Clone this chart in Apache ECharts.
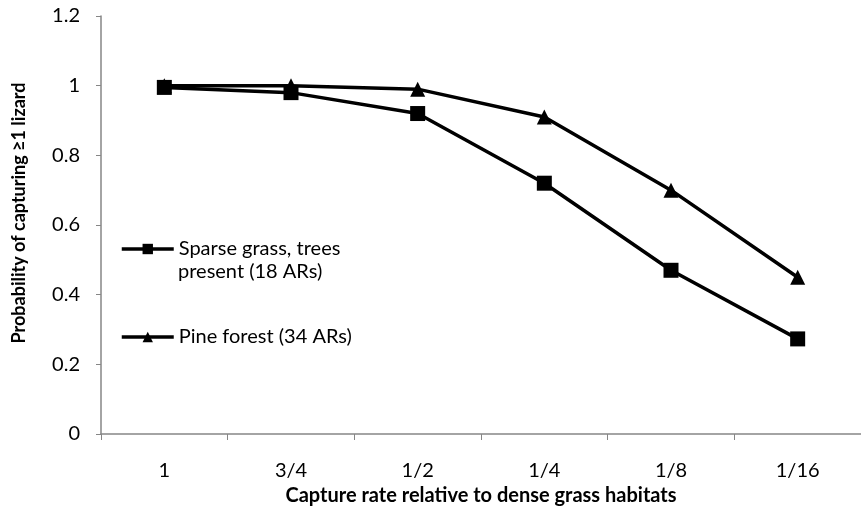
<!DOCTYPE html>
<html><head><meta charset="utf-8">
<script src="https://cdn.jsdelivr.net/npm/echarts@6/dist/echarts.min.js"></script>
<style>html,body{margin:0;padding:0;background:#fff}#c{width:861px;height:529px}</style>
</head><body><div id="c"></div>
<script>
const categories = ['1', '3/4', '1/2', '1/4', '1/8', '1/16'];
const sparseGrass = [0.995, 0.98, 0.92, 0.72, 0.47, 0.273];
const pineForest = [1.0, 1.0, 0.99, 0.91, 0.70, 0.45];
const yTicks = [0, 0.2, 0.4, 0.6, 0.8, 1, 1.2];
const sparseName = 'Sparse grass, trees present (18 ARs)';
const sparseLine1 = 'Sparse grass, trees';
const sparseLine2 = 'present (18 ARs)';
const pineName = 'Pine forest (34 ARs)';

const font = 'Lato, "Liberation Sans", sans-serif';
const chart = echarts.init(document.getElementById('c'));
chart.setOption({
  animation: false,
  backgroundColor: '#fff',
  textStyle: { fontFamily: font },
  grid: { left: 101, top: 16, width: 768, height: 418 },
  legend: [
    { data: [sparseName], left: 115, top: 234, itemWidth: 52, itemHeight: 13, itemGap: 7,
      formatter: () => sparseLine1,
      lineStyle: { width: 3.5 },
      textStyle: { fontSize: 20, color: '#000', fontFamily: font } },
    { data: [pineName], left: 115, top: 322, itemWidth: 52, itemHeight: 13, itemGap: 7,
      lineStyle: { width: 3.5 },
      textStyle: { fontSize: 20, color: '#000', fontFamily: font } }
  ],
  graphic: [
    { type: 'text', left: 178, top: 262,
      style: { text: sparseLine2, fontSize: 20, fill: '#000', fontFamily: font } }
  ],
  xAxis: {
    type: 'category', data: categories, boundaryGap: true,
    name: 'Capture rate relative to dense grass habitats', nameLocation: 'middle', nameGap: 47,
    nameTextStyle: { fontSize: 20, fontWeight: 'bold', color: '#000', fontFamily: font },
    axisLine: { lineStyle: { color: '#868686', width: 1.5 } },
    axisTick: { show: true, length: 6, lineStyle: { color: '#868686' } },
    axisLabel: { fontSize: 20, color: '#000', margin: 27, fontFamily: font },
    splitLine: { show: false }
  },
  yAxis: {
    type: 'value', min: yTicks[0], max: yTicks[yTicks.length - 1], interval: 0.2,
    name: 'Probability of capturing \u22651 lizard', nameLocation: 'middle', nameGap: 73,
    nameTextStyle: { fontSize: 18, fontWeight: 'bold', color: '#000', fontFamily: font,
      padding: [0, 0, 0, 24] },
    axisLine: { show: true, lineStyle: { color: '#868686', width: 1.5 } },
    axisTick: { show: true, length: 5, lineStyle: { color: '#868686' } },
    axisLabel: { fontSize: 20, color: '#000', margin: 21, fontFamily: font,
      formatter: v => String(Math.round(v * 10) / 10) },
    splitLine: { show: false }
  },
  series: [
    { name: sparseName, type: 'line', data: sparseGrass, symbol: 'rect', symbolSize: 15,
      lineStyle: { color: '#000', width: 3.5 }, itemStyle: { color: '#000' }, z: 3 },
    { name: pineName, type: 'line', data: pineForest, symbol: 'triangle', symbolSize: 15,
      lineStyle: { color: '#000', width: 3.5 }, itemStyle: { color: '#000' }, z: 2 }
  ]
});
</script></body></html>
